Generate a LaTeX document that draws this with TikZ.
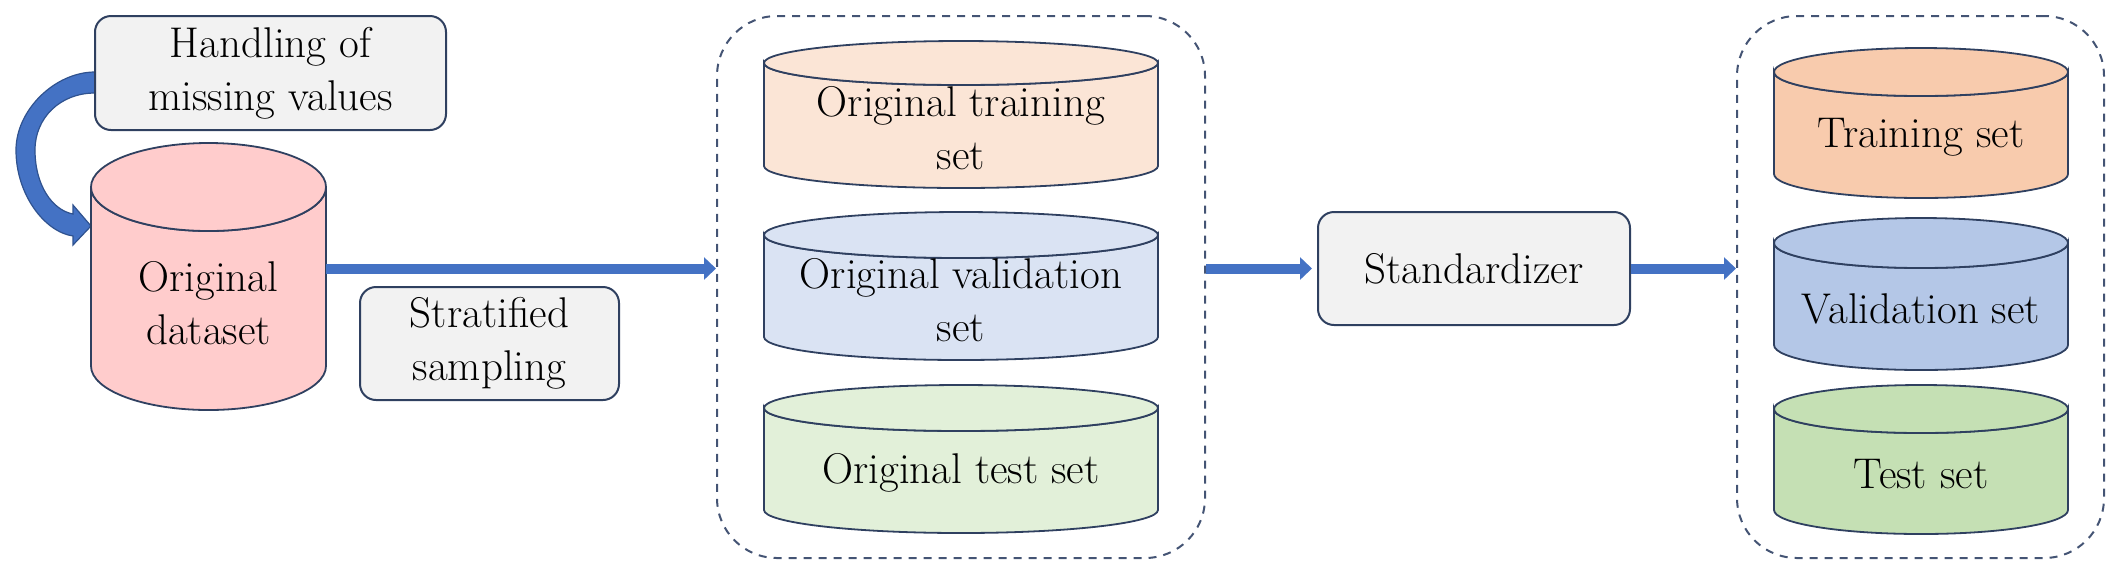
\documentclass[tikz,border=0pt]{standalone}
\usepackage{fontspec}
\usetikzlibrary{positioning,arrows.meta}

\definecolor{edgeblue}{RGB}{47,64,96}
\definecolor{dashblue}{RGB}{68,84,116}
\definecolor{boxgrey}{RGB}{242,242,242}
\definecolor{arrowblue}{RGB}{68,114,196}
\definecolor{arrowdark}{RGB}{47,82,143}
\definecolor{datapink}{RGB}{255,204,204}
\definecolor{otrainc}{RGB}{251,229,214}
\definecolor{ovalc}{RGB}{218,227,243}
\definecolor{otestc}{RGB}{226,240,217}
\definecolor{trainc}{RGB}{248,203,173}
\definecolor{valc}{RGB}{180,199,231}
\definecolor{testc}{RGB}{197,224,180}

\tikzset{
  box/.style={draw=edgeblue, line width=1pt, fill=boxgrey, rounded corners=8pt,
    align=center, inner sep=0pt},
  cylline/.style={draw=edgeblue, line width=0.9pt},
  group/.style={draw=dashblue, line width=1pt, dash pattern=on 4pt off 3.5pt,
    rounded corners=30pt},
  flow/.style={draw=arrowblue, line width=5pt, -{Triangle[length=6pt,width=11pt]}},
}

% database: name, x, y, half width, half height, end radius, colour, text
\newcommand{\dbcyl}[8]{
  \draw[cylline, fill=#7] (#2-#4,#3+#5-#6)
    arc[start angle=180, end angle=360, x radius=#4, y radius=#6]
    -- (#2+#4,#3-#5+#6)
    arc[start angle=0, end angle=-180, x radius=#4, y radius=#6] -- cycle;
  \draw[cylline, fill=#7] (#2,#3+#5-#6) ellipse[x radius=#4, y radius=#6];
  \node[minimum width=#4pt, minimum height=#5pt, inner sep=0pt,
    label={[align=center, yshift=-0.3*#6pt]center:#8}] (#1) at (#2,#3) {};
}

\begin{document}
\begin{tikzpicture}[x=0.5pt, y=0.5pt, font=\rmfamily\fontsize{21.5}{26.5}\selectfont]
  \useasboundingbox (0,0) rectangle (2120,-575);

  % missing values
  \filldraw[fill=arrowblue, draw=arrowdark, line width=0.6pt]
    (95,-72) .. controls (55,-72) and (16,-110) .. (16,-150)
    .. controls (16,-195) and (45,-232) .. (73,-236)
    -- (73,-245) -- (91,-226) -- (73,-205) -- (73,-214)
    .. controls (52,-210) and (35,-185) .. (35,-150)
    .. controls (35,-118) and (60,-93) .. (95,-93) -- cycle;
  \node[box, minimum width=175.5pt, minimum height=57pt] (hand) at (270.5,-73)
    {Handling of\\missing values};

  \dbcyl{odata}{208.5}{-276.5}{117.5}{133.5}{44}{datapink}{Original\\dataset}
  \node[box, minimum width=129.5pt, minimum height=56.5pt] (strat) at (489.5,-343.5)
    {Stratified\\sampling};

  % split
  \node[group, minimum width=244pt, minimum height=271pt] (grp1) at (961,-287) {};
  \dbcyl{otrain}{961}{-114.5}{197}{73.5}{22}{otrainc}{Original training\\set}
  \dbcyl{oval}{961}{-286}{197}{74}{23}{ovalc}{Original validation\\set}
  \dbcyl{otest}{961}{-459}{197}{74}{23}{otestc}{Original test set}

  \node[box, minimum width=156pt, minimum height=56.5pt] (std) at (1474,-268.5)
    {Standardizer};

  % scaled
  \node[group, minimum width=183.5pt, minimum height=271pt] (grp2) at (1920.5,-287) {};
  \dbcyl{train}{1921}{-123}{147}{75}{24}{trainc}{Training set}
  \dbcyl{val}{1921}{-294}{147}{76}{25}{valc}{Validation set}
  \dbcyl{test}{1921}{-459.5}{147}{74.5}{24}{testc}{Test set}

  \draw[flow] (odata.east |- std.west) -- (grp1.west |- std.west);
  \draw[flow, shorten >=2.5pt] (grp1.east |- std.west) -- (std.west);
  \draw[flow] (std.east) -- (grp2.west |- std.east);
\end{tikzpicture}
\end{document}
